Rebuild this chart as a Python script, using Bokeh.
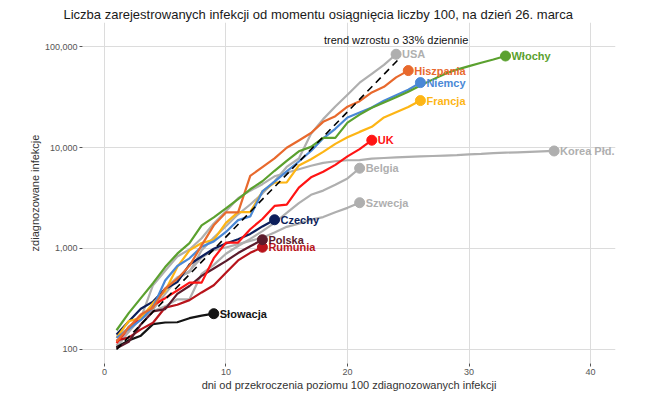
from bokeh.plotting import figure
from bokeh.models import (Range1d, FixedTicker, NumeralTickFormatter, LabelSet,
                          ColumnDataSource, Label)
from bokeh.core.properties import value
from bokeh.embed import file_html
from bokeh.resources import INLINE

# cumulative confirmed infections, day 1 = first day above 100 cases
usa = [118, 149, 217, 262, 402, 518, 583, 959, 1281, 1663, 2179, 2727, 3499, 4632,
       6421, 7786, 13680, 19101, 25493, 33276, 43847, 53740, 65778, 83836]
hiszpania = [120, 165, 222, 259, 400, 500, 673, 1073, 1695, 2277, 2277, 5232, 6391,
             7798, 9942, 11748, 13910, 17963, 20410, 25374, 28768, 35136, 39885,
             49515, 57786]
niemcy = [130, 159, 196, 262, 482, 670, 799, 1040, 1176, 1457, 1908, 2078, 3675, 4585,
          5795, 7272, 9257, 12327, 15320, 19848, 22213, 24873, 29056, 32986, 37323,
          43938]
francja = [130, 191, 204, 288, 380, 656, 957, 1134, 1217, 1792, 2289, 2289, 3672, 4480,
           4513, 6650, 7652, 9043, 10871, 12612, 14282, 16018, 19856, 22304, 25233,
           29155]
uk = [116, 164, 207, 274, 322, 384, 459, 459, 802, 1144, 1145, 1551, 1960, 2642, 2716,
      4014, 5067, 5745, 6726, 8164, 9640, 11812]
wlochy = [155, 229, 322, 453, 655, 888, 1128, 1694, 2036, 2502, 3089, 3858, 4636, 5883,
          7375, 9172, 10149, 12462, 12462, 17660, 21157, 24747, 27980, 31506, 35713,
          41035, 47021, 53578, 59138, 63927, 69176, 74386, 80589]
korea = [104, 150, 204, 433, 602, 833, 977, 1261, 1766, 2337, 3150, 3736, 4335, 5186,
         5621, 6088, 6593, 7041, 7314, 7478, 7513, 7755, 7869, 7979, 8086, 8162, 8236,
         8320, 8413, 8565, 8652, 8799, 8897, 8961, 9037, 9137, 9241]
belgia = [109, 169, 200, 239, 267, 314, 314, 559, 689, 886, 1058, 1243, 1486, 1795,
          2257, 2815, 3401, 3743, 4269, 4937, 6235]
szwecja = [137, 161, 203, 248, 355, 500, 599, 814, 961, 1022, 1103, 1190, 1279, 1439,
           1639, 1763, 1934, 2046, 2286, 2526, 2840]
czechy = [141, 189, 253, 298, 396, 464, 694, 833, 995, 1120, 1236, 1394, 1654, 1925]
polska = [103, 119, 177, 238, 251, 355, 425, 536, 634, 749, 901, 1051, 1221]
rumunia = [123, 131, 158, 184, 260, 277, 308, 367, 433, 576, 762, 906, 1029]
slowacja = [105, 123, 137, 178, 185, 186, 204, 216, 226]

# trend: 33% daily growth starting from 100 on day 1
trend_rate = 1.33
trend_start_day = 1
trend_end_day = 24.3
trend_days = [trend_start_day, trend_end_day]
trend_values = [100, 100 * trend_rate ** (trend_end_day - trend_start_day)]

GRAY = "#AFAFAF"
series = [
    ("Korea Płd.", korea, GRAY),
    ("Belgia", belgia, GRAY),
    ("Szwecja", szwecja, GRAY),
    ("USA", usa, GRAY),
    ("Słowacja", slowacja, "#141414"),
    ("Rumunia", rumunia, "#B8141B"),
    ("Polska", polska, "#5B1B2B"),
    ("Czechy", czechy, "#0C1E5B"),
    ("UK", uk, "#FF1414"),
    ("Francja", francja, "#FDB515"),
    ("Niemcy", niemcy, "#4A88D6"),
    ("Hiszpania", hiszpania, "#E8692D"),
    ("Włochy", wlochy, "#5BA12F"),
]

FONT = "Liberation Sans"
TITLE = "Liczba zarejestrowanych infekcji od momentu osiągnięcia liczby 100, na dzień 26. marca"

p = figure(width=645, height=395, output_backend="svg", toolbar_location=None,
           y_axis_type="log",
           x_range=Range1d(-1.8, 42.05), y_range=Range1d(72.6, 173000),
           min_border_left=82, min_border_right=30, min_border_top=22,
           min_border_bottom=32)
p.outline_line_color = None
p.background_fill_color = "white"
p.border_fill_color = "white"

p.title.text = TITLE
p.title.align = "left"
p.title.offset = -19
p.title.vertical_align = "middle"
p.title.standoff = 0
p.title.text_font = FONT
p.title.text_font_size = "13px"
p.title.text_font_style = "normal"
p.title.text_color = "#1a1a1a"

for ax in (p.xaxis[0], p.yaxis[0]):
    ax.axis_line_color = None
    ax.major_tick_in = 0
    ax.major_tick_out = 3
    ax.major_tick_line_color = "#555555"
    ax.minor_tick_line_color = None
    ax.major_label_text_font = FONT
    ax.major_label_text_font_size = "9px"
    ax.major_label_text_color = "#555555"
    ax.major_label_standoff = 2
    ax.axis_label_text_font = FONT
    ax.axis_label_text_font_size = "11px"
    ax.axis_label_text_font_style = "normal"
    ax.axis_label_text_color = "#333333"
    ax.axis_label_standoff = 1

p.xaxis.ticker = FixedTicker(ticks=[0, 10, 20, 30, 40])
p.yaxis.ticker = FixedTicker(ticks=[100, 1000, 10000, 100000])
p.yaxis.formatter = NumeralTickFormatter(format="0,0")
p.xaxis.axis_label = "dni od przekroczenia poziomu 100 zdiagnozowanych infekcji"
p.yaxis.axis_label = "zdiagnozowane infekcje"

p.xgrid.grid_line_color = "#DCDCDC"
p.ygrid.grid_line_color = "#DCDCDC"
p.xgrid.grid_line_width = 1
p.ygrid.grid_line_width = 1
p.xgrid.minor_grid_line_color = None
p.ygrid.minor_grid_line_color = None

end_x, end_y, end_name, end_color = [], [], [], []
for name, vals, col in series:
    days = list(range(1, len(vals) + 1))
    p.line(days, vals, line_color=col, line_width=2.2, line_join="round")
    end_x.append(days[-1])
    end_y.append(vals[-1])
    end_name.append(name)
    end_color.append(col)

p.line(trend_days, trend_values, line_color="black", line_width=1.6,
       line_dash="7 5")

src = ColumnDataSource(dict(x=end_x, y=end_y, name=end_name, color=end_color))
p.scatter("x", "y", source=src, size=10, fill_color="color", line_color="color")
labels = LabelSet(x="x", y="y", text="name", source=src, x_offset=6,
                  text_baseline="middle", text_align="left",
                  text_color="color", text_font=value(FONT),
                  text_font_size=value("11px"), text_font_style=value("bold"))
p.add_layout(labels)

p.add_layout(Label(x=24, y=117000, text="trend wzrostu o 33% dziennie",
                   text_align="center", text_baseline="middle",
                   text_font=FONT, text_font_size="11px", text_color="#111111"))

open("out.html", "w").write(file_html(p, INLINE))
